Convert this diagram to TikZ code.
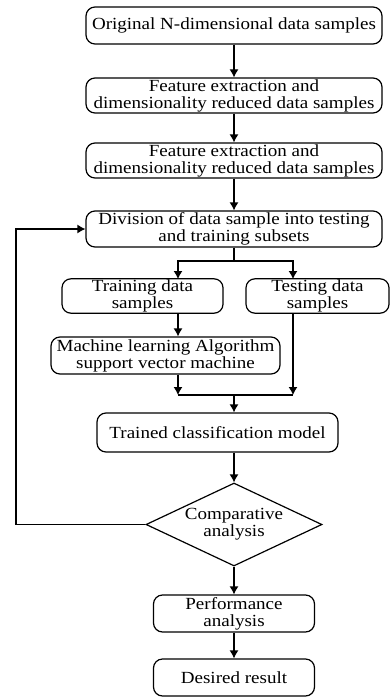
\documentclass[tikz,border=0pt]{standalone}
\usepackage{fontspec}
\setmainfont{Liberation Serif}[FakeStretch=1.12]
\usetikzlibrary{shapes.geometric,arrows.meta}
\tikzstyle{stepbox}=[draw, rounded corners=9pt, line width=1.2pt, align=center, inner sep=1pt, font=\fontsize{17}{17}\selectfont]
\tikzset{decision/.style={diamond, aspect=2.12, draw, line width=1.2pt, align=center, inner sep=0pt, font=\fontsize{17}{17}\selectfont}}
\tikzset{arr/.style={-{Latex[length=8pt,width=9pt]}, line width=1.2pt}}

\begin{document}
\begin{tikzpicture}[x=1pt,y=-1pt]
  \useasboundingbox (0,0) rectangle (390,698);
  \draw (234,25.5) node[stepbox,minimum width=296pt,minimum height=37pt] (orig) {Original N-dimensional data samples};
  \draw (234,95.5) node[stepbox,minimum width=296pt,minimum height=35pt] (feat1) {Feature extraction and\\dimensionality reduced data samples};
  \draw (234,160.5) node[stepbox,minimum width=296pt,minimum height=35pt] (feat2) {Feature extraction and\\dimensionality reduced data samples};
  \draw (234,229) node[stepbox,minimum width=296pt,minimum height=36pt] (div) {Division of data sample into testing\\and training subsets};

  \draw (142.5,296) node[stepbox,minimum width=161pt,minimum height=34pt] (train) {Training data\\samples};
  \draw (317.5,296) node[stepbox,minimum width=143pt,minimum height=34pt] (test) {Testing data\\samples};
  \draw (165.5,355.5) node[stepbox,minimum width=229pt,minimum height=37pt] (ml) {Machine learning Algorithm\\support vector machine};

  \draw (217.5,432.5) node[stepbox,minimum width=241pt,minimum height=39pt] (trained) {Trained classification model};
  \draw (234,524.5) node[decision,minimum width=176pt,minimum height=83pt] (cmp) {Comparative\\analysis};
  \draw (234,613.5) node[stepbox,minimum width=161pt,minimum height=37pt] (perf) {Performance\\analysis};
  \draw (234,677.5) node[stepbox,minimum width=161pt,minimum height=37pt] (res) {Desired result};

  %% junction points
  \coordinate (split) at (234,261);
  \coordinate (trainin) at (178,279);
  \coordinate (testin) at (293,279);
  \coordinate (mergeL) at (178,395);
  \coordinate (mergeR) at (293,395);
  \coordinate (merge) at (234,395);
  \coordinate (fb) at (16,229);

  \draw[arr] (orig) -- (feat1);
  \draw[arr] (feat1) -- (feat2);
  \draw[arr] (feat2) -- (div);
  \draw[line width=1.2pt] (div.south) -- (split);
  \draw[arr] (split) -| (trainin);
  \draw[arr] (split) -| (testin);
  \draw[arr] (train.south -| trainin) -- (ml.north -| trainin);
  \draw[arr] (ml.south -| trainin) -- (mergeL);
  \draw[arr] (test.south -| testin) -- (mergeR);
  \draw[line width=1.2pt] (mergeL) -- (mergeR);
  \draw[arr] (merge) -- (trained.north -| merge);
  \draw[arr] (trained.south -| merge) -- (cmp.north);
  \draw[arr] (cmp) -- (perf);
  \draw[arr] (perf) -- (res);

  %% back to the division step
  \draw[arr] (cmp.west) -| (fb) -- (div.west);
\end{tikzpicture}
\end{document}
